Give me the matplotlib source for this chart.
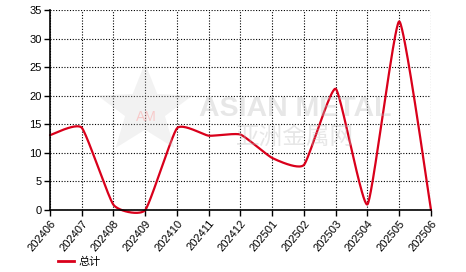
import numpy as np
import matplotlib
matplotlib.use("Agg")
import matplotlib.pyplot as plt
from matplotlib.lines import Line2D

months = ["202406", "202407", "202408", "202409", "202410", "202411", "202412",
          "202501", "202502", "202503", "202504", "202505", "202506"]
totals = [13.1, 14.4, 0.9, 0.0, 14.3, 13.0, 13.2, 9.1, 7.9, 21.2, 1.0, 33.0, 0.0]
series_name = "总计"
y_ticks = [0, 5, 10, 15, 20, 25, 30, 35]

def smooth(xs, ys, k=0.08, n=40):
    P = np.c_[np.asarray(xs, float), np.asarray(ys, float)]
    N = len(P)
    out = []
    for i in range(N - 1):
        p0, p1 = P[i], P[i+1]
        prev = P[i-1] if i > 0 else P[i]
        nxt = P[i+2] if i + 2 < N else P[i+1]
        c1 = p0 + k * (p1 - prev)
        c2 = p1 - k * (nxt - p0)
        t = np.linspace(0, 1, n, endpoint=False)[:, None]
        seg = ((1-t)**3)*p0 + 3*((1-t)**2)*t*c1 + 3*(1-t)*t**2*c2 + t**3*p1
        out.append(seg)
    out.append(P[-1:])
    arr = np.vstack(out)
    return arr[:, 0], arr[:, 1]

W, H = 466, 272
fig = plt.figure(figsize=(W/100, H/100), dpi=100)
ax = fig.add_axes([50/W, (H-210)/H, (431-50)/W, 200/H])

x = np.arange(len(months))
sx, sy = smooth(x, totals)
red = "#d9001b"
ax.plot(sx, sy, color=red, lw=1.6, solid_capstyle="round", zorder=3, clip_on=False)

ax.set_xlim(0, len(months)-1)
ax.set_ylim(0, 35)
ax.set_xticks(x)
ax.set_xticklabels(months, rotation=50, ha="right", va="top", rotation_mode="anchor",
                   fontsize=8, family="Liberation Sans")
ax.set_yticks(y_ticks)
ax.set_yticklabels([str(v) for v in y_ticks], fontsize=8, family="Liberation Sans")
ax.tick_params(axis="both", direction="out", length=4, width=1, color="black", pad=2)
ax.grid(True, color="black", linestyle=(0, (1, 1.5)), linewidth=0.8)
for s in ["top", "right"]:
    ax.spines[s].set_visible(False)
for s in ["left", "bottom"]:
    ax.spines[s].set_linewidth(1.2)
    ax.spines[s].set_zorder(4)

# watermark
fig.text(199/W, 1-109/H, "ASIAN METAL", fontsize=20.5, fontweight="bold", color="#bbbbbb",
         alpha=0.35, va="center", ha="left", family="Liberation Sans", zorder=1)
fig.text(236/W, 1-137/H, "亚洲金属网", fontsize=17, color="#bbbbbb", alpha=0.35,
         va="center", ha="left", family=["Noto Sans CJK SC", "DejaVu Sans"], zorder=1)
ang = np.linspace(np.pi/2, np.pi/2 + 2*np.pi, 11)
rad = np.array([1, 0.42]*5 + [1])
px = 145 + 50*rad*np.cos(ang)
py = (H - 110) + 47*rad*np.sin(ang)
fig.patches.append(plt.Polygon(np.c_[px/W, py/H], closed=True, transform=fig.transFigure,
                               facecolor="#cccccc", alpha=0.25, edgecolor="none", zorder=0))
fig.text(146/W, 1-117/H, "AM", fontsize=10, color="#ff9999", alpha=0.45, ha="center",
         va="center", family="Liberation Sans")

handle = Line2D([], [], color=red, lw=2)
fig.legend([handle], [series_name], loc="center left", bbox_to_anchor=(58/W, 1-262/H),
           frameon=False, handlelength=1.4, handletextpad=0.45, borderpad=0,
           borderaxespad=0, prop={"family": ["Noto Sans CJK SC", "DejaVu Sans"], "size": 8})

fig.savefig("out.png", dpi=100)
